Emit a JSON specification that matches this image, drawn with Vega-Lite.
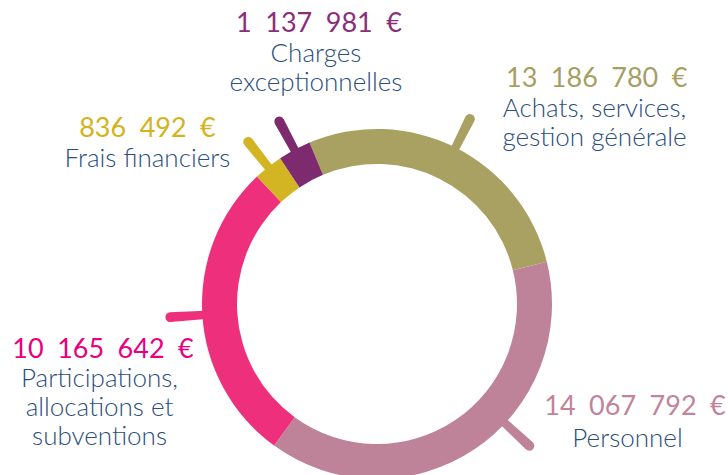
{
  "$schema": "https://vega.github.io/schema/vega-lite/v6.json",
  "width": 728,
  "height": 475,
  "padding": 0,
  "autosize": {"type": "fit", "contains": "padding"},
  "background": "#ffffff",
  "config": {
    "view": {
      "stroke": null,
      "fill": {
        "gradient": "linear",
        "x1": 0, "y1": 0, "x2": 1, "y2": 0.4437,
        "stops": [
          {"offset": 0, "color": "#e4e6e8"},
          {"offset": 0.474, "color": "#e4e6e8"},
          {"offset": 0.474, "color": "#ffffff"},
          {"offset": 1, "color": "#ffffff"}
        ]
      }
    },
    "locale": {
      "number": {"decimal": ",", "thousands": "\u2002", "grouping": [3], "currency": ["", "\u2002€"]}
    },
    "text": {"font": "Lato"}
  },
  "data": {
    "values": [
      {"poste": "Achats, services, gestion générale", "libelle": "Achats, services,\ngestion générale", "montant": 13186780, "part": 27.42},
      {"poste": "Personnel", "libelle": "Personnel", "montant": 14067792, "part": 38.89},
      {"poste": "Participations, allocations et subventions", "libelle": "Participations,\nallocations et\nsubventions", "montant": 10165642, "part": 27.97},
      {"poste": "Frais financiers", "libelle": "Frais financiers", "montant": 836492, "part": 2.69},
      {"poste": "Charges exceptionnelles", "libelle": "Charges\nexceptionnelles", "montant": 1137981, "part": 3.03}
    ]
  },
  "transform": [
    {"window": [{"op": "sum", "field": "part", "as": "cumul"}]},
    {"calculate": "datum.cumul - datum.part / 2", "as": "milieu"}
  ],
  "layer": [
    {
      "transform": [{"filter": "datum.poste !== 'Personnel'"}],
      "mark": {"type": "arc", "innerRadius": 168, "outerRadius": 212, "cornerRadius": 5, "thetaOffset": -0.024, "theta2Offset": 0.024, "xOffset": 13, "yOffset": 70.5},
      "encoding": {
        "theta": {"field": "milieu", "type": "quantitative", "scale": {"domain": [0, 100], "range": [-0.39619, 5.887]}},
        "theta2": {"field": "milieu"},
        "color": {
          "field": "poste", "type": "nominal", "legend": null,
          "scale": {
            "domain": ["Achats, services, gestion générale", "Personnel", "Participations, allocations et subventions", "Frais financiers", "Charges exceptionnelles"],
            "range": ["#a9a162", "#bf8399", "#ee2f7c", "#d3b524", "#7e2a6f"]
          }
        }
      }
    },
    {
      "transform": [{"filter": "datum.poste === 'Personnel'"}],
      "mark": {"type": "arc", "innerRadius": 168, "outerRadius": 213, "cornerRadius": 5, "thetaOffset": -0.252, "theta2Offset": -0.204, "xOffset": 13, "yOffset": 70.5},
      "encoding": {
        "theta": {"field": "milieu", "type": "quantitative", "scale": {"domain": [0, 100], "range": [-0.39619, 5.887]}},
        "theta2": {"field": "milieu"},
        "color": {"field": "poste", "type": "nominal", "legend": null}
      }
    },
    {
      "mark": {"type": "arc", "innerRadius": 140, "outerRadius": 175, "xOffset": 13, "yOffset": 70.5},
      "encoding": {
        "theta": {"field": "part", "type": "quantitative", "stack": true, "scale": {"domain": [0, 100], "range": [-0.39619, 5.887]}},
        "order": {"field": "cumul", "type": "quantitative"},
        "color": {"field": "poste", "type": "nominal", "legend": null}
      }
    },
    {
      "transform": [{"filter": "datum.poste === 'Achats, services, gestion générale'"}],
      "layer": [
        {
          "mark": {"type": "text", "radius": 212, "xOffset": 13, "yOffset": 70.5, "dx": 124.6, "dy": -27.5, "align": "center", "baseline": "alphabetic", "fontSize": 27, "color": "#a69f63"},
          "encoding": {"theta": {"field": "milieu", "type": "quantitative", "scale": {"domain": [0, 100], "range": [-0.39619, 5.887]}}, "text": {"field": "montant", "type": "quantitative", "format": "$,.0f"}}
        },
        {
          "mark": {"type": "text", "radius": 212, "xOffset": 13, "yOffset": 70.5, "dx": 122.4, "dy": 2.2, "align": "center", "baseline": "alphabetic", "fontSize": 26, "fontWeight": 300, "color": "#2b4e7c", "lineBreak": "\n", "lineHeight": 29},
          "encoding": {"theta": {"field": "milieu", "type": "quantitative", "scale": {"domain": [0, 100], "range": [-0.39619, 5.887]}}, "text": {"field": "libelle", "type": "nominal"}}
        }
      ]
    },
    {
      "transform": [{"filter": "datum.poste === 'Personnel'"}],
      "layer": [
        {
          "mark": {"type": "text", "radius": 212, "xOffset": 13, "yOffset": 70.5, "dx": 139.5, "dy": -64.5, "align": "center", "baseline": "alphabetic", "fontSize": 27, "color": "#c0859a"},
          "encoding": {"theta": {"field": "milieu", "type": "quantitative", "scale": {"domain": [0, 100], "range": [-0.39619, 5.887]}}, "text": {"field": "montant", "type": "quantitative", "format": "$,.0f"}}
        },
        {
          "mark": {"type": "text", "radius": 212, "xOffset": 13, "yOffset": 70.5, "dx": 132, "dy": -33.1, "align": "center", "baseline": "alphabetic", "fontSize": 26, "fontWeight": 300, "color": "#2b4e7c", "lineBreak": "\n", "lineHeight": 28},
          "encoding": {"theta": {"field": "milieu", "type": "quantitative", "scale": {"domain": [0, 100], "range": [-0.39619, 5.887]}}, "text": {"field": "libelle", "type": "nominal"}}
        }
      ]
    },
    {
      "transform": [{"filter": "datum.poste === 'Participations, allocations et subventions'"}],
      "layer": [
        {
          "mark": {"type": "text", "radius": 212, "xOffset": 13, "yOffset": 70.5, "dx": -62.4, "dy": 40.1, "align": "center", "baseline": "alphabetic", "fontSize": 27, "color": "#e8007f"},
          "encoding": {"theta": {"field": "milieu", "type": "quantitative", "scale": {"domain": [0, 100], "range": [-0.39619, 5.887]}}, "text": {"field": "montant", "type": "quantitative", "format": "$,.0f"}}
        },
        {
          "mark": {"type": "text", "radius": 212, "xOffset": 13, "yOffset": 70.5, "dx": -65.9, "dy": 69.2, "align": "center", "baseline": "alphabetic", "fontSize": 26, "fontWeight": 300, "color": "#2b4e7c", "lineBreak": "\n", "lineHeight": 29},
          "encoding": {"theta": {"field": "milieu", "type": "quantitative", "scale": {"domain": [0, 100], "range": [-0.39619, 5.887]}}, "text": {"field": "libelle", "type": "nominal"}}
        }
      ]
    },
    {
      "transform": [{"filter": "datum.poste === 'Frais financiers'"}],
      "layer": [
        {
          "mark": {"type": "text", "radius": 212, "xOffset": 13, "yOffset": 70.5, "dx": -97.7, "dy": -1, "align": "center", "baseline": "alphabetic", "fontSize": 27, "color": "#d4b21c"},
          "encoding": {"theta": {"field": "milieu", "type": "quantitative", "scale": {"domain": [0, 100], "range": [-0.39619, 5.887]}}, "text": {"field": "montant", "type": "quantitative", "format": "$,.0f"}}
        },
        {
          "mark": {"type": "text", "radius": 212, "xOffset": 13, "yOffset": 70.5, "dx": -97.7, "dy": 28.7, "align": "center", "baseline": "alphabetic", "fontSize": 26, "fontWeight": 300, "color": "#2b4e7c", "lineBreak": "\n", "lineHeight": 28},
          "encoding": {"theta": {"field": "milieu", "type": "quantitative", "scale": {"domain": [0, 100], "range": [-0.39619, 5.887]}}, "text": {"field": "libelle", "type": "nominal"}}
        }
      ]
    },
    {
      "transform": [{"filter": "datum.poste === 'Charges exceptionnelles'"}],
      "layer": [
        {
          "mark": {"type": "text", "radius": 212, "xOffset": 13, "yOffset": 70.5, "dx": 42, "dy": -84.8, "align": "center", "baseline": "alphabetic", "fontSize": 27, "color": "#8b2e7a"},
          "encoding": {"theta": {"field": "milieu", "type": "quantitative", "scale": {"domain": [0, 100], "range": [-0.39619, 5.887]}}, "text": {"field": "montant", "type": "quantitative", "format": "$,.0f"}}
        },
        {
          "mark": {"type": "text", "radius": 212, "xOffset": 13, "yOffset": 70.5, "dx": 39, "dy": -55.4, "align": "center", "baseline": "alphabetic", "fontSize": 26, "fontWeight": 300, "color": "#2b4e7c", "lineBreak": "\n", "lineHeight": 29},
          "encoding": {"theta": {"field": "milieu", "type": "quantitative", "scale": {"domain": [0, 100], "range": [-0.39619, 5.887]}}, "text": {"field": "libelle", "type": "nominal"}}
        }
      ]
    }
  ]
}
